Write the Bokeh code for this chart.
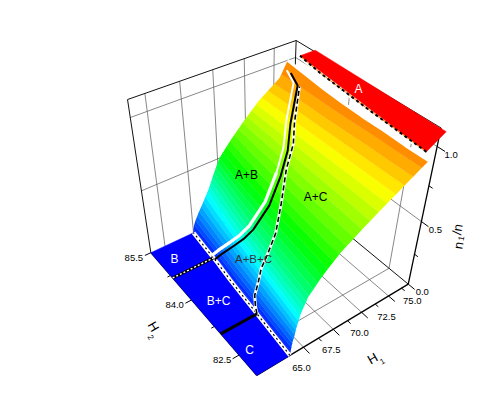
import numpy as np
from bokeh.core.properties import value
from bokeh.embed import file_html
from bokeh.models import Range1d
from bokeh.plotting import figure
from bokeh.resources import INLINE

# ---- chart data -------------------------------------------------------
h2_cols = [82.0, 82.5, 83.0, 83.5, 84.0, 84.5, 85.0, 85.5]
n_rows = [0, .03, .06, .1, .15, .2, .3, .4, .5, .6, .7, .8, .9, .93]
# height actually reached by the surface's upper rim for each H2
rim_n = [.93, .93, .94, .94, .95, .96, .98, 1.0]
# H1 at which the surface reaches n_rows[i] for h2_cols[j]
h1_table = [
    [63.90, 64.05, 64.20, 64.35, 64.50, 64.70, 64.85, 65.00],
    [63.93, 64.08, 64.23, 64.38, 64.53, 64.73, 64.88, 65.03],
    [63.98, 64.13, 64.28, 64.43, 64.60, 64.80, 64.95, 65.10],
    [64.05, 64.22, 64.38, 64.55, 64.72, 64.92, 65.10, 65.30],
    [64.20, 64.38, 64.56, 64.76, 64.95, 65.15, 65.38, 65.60],
    [64.30, 64.55, 64.80, 65.00, 65.20, 65.42, 65.65, 65.95],
    [64.60, 64.85, 65.10, 65.35, 65.60, 65.90, 66.25, 66.60],
    [65.10, 65.35, 65.60, 65.85, 66.15, 66.45, 66.80, 67.10],
    [66.10, 66.30, 66.50, 66.70, 66.90, 67.10, 67.35, 67.65],
    [67.40, 67.55, 67.70, 67.90, 68.05, 68.25, 68.45, 68.70],
    [69.20, 69.30, 69.40, 69.50, 69.60, 69.70, 69.80, 69.90],
    [71.20, 71.20, 71.20, 71.20, 71.20, 71.20, 71.20, 71.20],
    [73.25, 73.20, 73.20, 73.15, 73.10, 73.10, 73.05, 73.00],
    [73.90, 73.90, 73.85, 73.85, 73.80, 73.80, 73.75, 73.70],
]
# phase boundaries on the surface: n and H2
c1_n = [0, .1, .21, .3, .39, .53, .64, .72, .8, .91, .93]
c1_h2 = [84.67, 84.45, 84.2, 84.0, 83.85, 83.8, 84.0, 84.25, 84.6, 85.1, 85.45]
c2_n = [0, .04, .1, .18, .27, .36, .47, .57, .67, .75, .81, .91]
c2_h2 = [83.05, 83.12, 83.2, 83.22, 83.25, 83.22, 83.28, 83.55, 83.95, 84.2, 84.5, 85.0]
# red plate A corners
plate_a_h1 = [74.8, 76.2, 74.95, 73.5]
plate_a_h2 = [85.5, 85.5, 82.0, 82.0]
plate_a_n = [1.0, 1.0, 1.07, 1.0]
top_line_h1 = [73.5, 73.7, 73.9, 74.15, 74.4, 74.8]
top_line_h2 = [82.0, 82.7, 83.4, 84.1, 84.8, 85.5]
h2_bc = [84.67, 83.05]
h1_ticks = [65.0, 67.5, 70.0, 72.5, 75.0]
h1_labels = ["65.0", "67.5", "70.0", "72.5", "75.0"]
h2_ticks = [85.5, 84.0, 82.5]
h2_labels = ["85.5", "84.0", "82.5"]
n_ticks = [0.0, 0.5, 1.0]
n_labels = ["0.0", "0.5", "1.0"]
H1_MIN, H1_MAX, H2_MIN, H2_MAX, N_TOP = 61.3, 74.4, 82.0, 85.5, 1.11

# ---- projection calibrated on the box corners ---------------------------
world = np.array([(61.3, 82, 0), (65, 82, 0), (70, 82, 0), (74.4, 82, 0), (74.4, 82, .5), (74.4, 82, 1),
                  (74.4, 82, 1.11), (61.3, 85.5, 0), (65, 85.5, 0), (74.4, 85.5, 1.11), (61.3, 85.5, 1.11),
                  (74.4, 85.5, 1.0), (61.3, 85.5, 1.0)], float)
page = np.array([(255, 375), (303, 347), (360, 313), (409, 281), (422, 220), (437, 146), (440, 130),
                 (153, 252), (191, 234), (299, 39), (127, 99), (291, 58), (130, 115)], float)
C = np.array([68, 84, .5])
A, b = [], []
for (w, q) in zip(world - C, page):
    A.append([*w, 1, 0, 0, 0, 0, *(-q[0] * w)]); b.append(q[0])
    A.append([0, 0, 0, 0, *w, 1, *(-q[1] * w)]); b.append(q[1])
M = np.linalg.lstsq(np.array(A), np.array(b), rcond=None)[0]


def proj(h1, h2, n):
    h1, h2, n = np.broadcast_arrays(np.asarray(h1, float) - C[0], np.asarray(h2, float) - C[1], np.asarray(n, float) - C[2])
    d = M[8] * h1 + M[9] * h2 + M[10] * n + 1
    return (M[0] * h1 + M[1] * h2 + M[2] * n + M[3]) / d, (M[4] * h1 + M[5] * h2 + M[6] * n + M[7]) / d


T = np.array(h1_table)
Z = np.tile(np.array(n_rows)[:, None], (1, len(h2_cols)))
G2 = np.tile(np.array(h2_cols), (len(n_rows), 1))
P = Z.copy()
P[-1] = rim_n


def on_surface(ns, h2s):
    return [np.interp(h, h2_cols, [np.interp(v, n_rows, T[:, j]) for j in range(len(h2_cols))]) for v, h in zip(ns, h2s)]


p = figure(width=482, height=383, x_range=Range1d(0, 482), y_range=Range1d(383, 0), toolbar_location=None,
           output_backend="svg", min_border=0, outline_line_color=None, background_fill_color="white")
p.axis.visible = False
p.grid.visible = False

GRID = "#555555"


def seg(a, b_, **kw):
    x, y = proj([a[0], b_[0]], [a[1], b_[1]], [a[2], b_[2]])
    p.line(x, y, **kw)


grid_kw = dict(line_color=GRID, line_width=0.7)
for h in [62.5, 65, 67.5, 70, 72.5]:
    seg((h, H2_MAX, 0), (h, H2_MAX, N_TOP), **grid_kw)
    seg((h, H2_MIN, 0), (h, H2_MAX, 0), **grid_kw)
for h in [82.5, 84.0]:
    seg((H1_MAX, h, 0), (H1_MAX, h, N_TOP), **grid_kw)
    seg((H1_MIN, h, 0), (H1_MAX, h, 0), **grid_kw)
for v in [.5, 1.0]:
    seg((H1_MIN, H2_MAX, v), (H1_MAX, H2_MAX, v), **grid_kw)
    seg((H1_MAX, H2_MIN, v), (H1_MAX, H2_MAX, v), **grid_kw)

box_kw = dict(line_color="#111111", line_width=1.0)
seg((H1_MIN, H2_MAX, 0), (H1_MIN, H2_MAX, N_TOP), **box_kw)
seg((H1_MIN, H2_MAX, N_TOP), (H1_MAX, H2_MAX, N_TOP), **box_kw)
seg((H1_MAX, H2_MAX, N_TOP), (H1_MAX, H2_MIN, N_TOP), **box_kw)
seg((H1_MAX, H2_MAX, 0), (H1_MAX, H2_MAX, N_TOP), **box_kw)
seg((H1_MAX, H2_MIN, 0), (H1_MAX, H2_MAX, 0), **box_kw)
seg((H1_MAX, H2_MIN, 0), (H1_MAX, H2_MIN, N_TOP), line_color="black", line_width=1.3)
seg((H1_MIN, H2_MIN, 0), (H1_MAX, H2_MIN, 0), line_color="black", line_width=1.3)
seg((H1_MIN, H2_MIN, 0), (H1_MIN, H2_MAX, 0), line_color="black", line_width=1.3)

# ticks
for h, m in [(65, 1), (66.25, 0), (67.5, 1), (68.75, 0), (70, 1), (71.25, 0), (72.5, 1), (73.75, 0)]:
    seg((h, H2_MIN, 0), (h, H2_MIN - (0.16 if m else 0.08), 0), line_color="black", line_width=1)
for h, m in [(85.5, 1), (84.75, 0), (84, 1), (83.25, 0), (82.5, 1)]:
    seg((H1_MIN, h, 0), (H1_MIN - (0.5 if m else 0.25), h, 0), line_color="black", line_width=1)
for v, m in [(0, 1), (.25, 0), (.5, 1), (.75, 0), (1, 1)]:
    seg((H1_MAX, H2_MIN, v), (H1_MAX, H2_MIN - (0.16 if m else 0.08), v), line_color="black", line_width=1)

# blue plates and red plate
front = T[0]
px, py = proj([H1_MIN, H1_MIN, *front[::-1]], [H2_MIN, H2_MAX, *h2_cols[::-1]], 0)
p.patch(px, py, fill_color="#0000ff", line_color="#0000ff", line_width=0.5)
ax, ay = proj(plate_a_h1, plate_a_h2, plate_a_n)

# surface: the colour scale runs on to 1.07
levels = list(np.arange(0, 33) / 32)
stops = np.array([(0, 0, 255), (0, 255, 255), (0, 255, 0), (255, 255, 0), (255, 0, 0)], float)


def hexc(t):
    c = [int(round(np.interp(t * 4 / 1.07, range(5), stops[:, i]))) for i in range(3)]
    return "#%02x%02x%02x" % tuple(c)


fills = [hexc((levels[i] + levels[i + 1]) / 2) for i in range(32)]
lines = [hexc(l) for l in levels]
SX, SY = proj(T, G2, P)
p.contour(SX, SY, Z, levels, fill_color=fills, line_color=lines, line_width=0.6)

# white fringes and dashed black borders
ex, ey = proj(T[-1], h2_cols, rim_n)
tx, ty = proj(top_line_h1, top_line_h2, 1.0)
p.line(tx, ty, line_color="white", line_width=5)
p.line(ex, ey, line_color="white", line_width=3)
p.patch(ax, ay, fill_color="#ff0000", line_color="#ff0000", line_width=0.5)
p.line(tx, ty, line_color="#ff8000", line_width=1)
p.line(tx, ty, line_color="black", line_width=2, line_dash="3 3")
fx, fy = proj(front, h2_cols, 0)
p.line(fx, fy, line_color="white", line_width=4)
p.line(fx, fy, line_color="black", line_width=1.2, line_dash="2 3")

c1_h1 = on_surface(c1_n, c1_h2)
c2_h1 = on_surface(c2_n, c2_h2)
cx, cy = proj(c2_h1, c2_h2, c2_n)
p.line(cx, cy, line_color="white", line_width=3)
p.line(cx, cy, line_color="black", line_width=1.6, line_dash="5 3")
wx, wy = proj(c1_h1, np.array(c1_h2) + 0.07, c1_n)
p.line(wx[:7], wy[:7], line_color="white", line_width=3.2)
p.line(wx[6:], wy[6:], line_color="white", line_width=2)
bx, by = proj(c1_h1, np.array(c1_h2) - 0.05, c1_n)
p.line(bx, by, line_color="black", line_width=2)

# separators on the blue plates
for k, h in enumerate(h2_bc):
    f = np.interp(h, h2_cols, front)
    sx, sy = proj([H1_MIN, f], [h, h], 0)
    if k == 0:
        p.line(sx, sy, line_color="black", line_width=3)
        p.line(sx, sy, line_color="white", line_width=1.4, line_dash="2 2")
    else:
        p.line(sx, sy, line_color="black", line_width=3)

font = value("Liberation Sans")
common = dict(text_font=font, text_align="center", text_baseline="middle")


def label(x, y, t, size="12px", color="black", angle=0.0, **kw):
    p.text([x], [y], text=[t], text_font_size=size, text_color=color, angle=angle, angle_units="deg", **common, **kw)


for t, h in zip(h1_labels, h1_ticks):
    x, y = proj(h, H2_MIN, 0)
    label(float(x) - 2, float(y) + 21, t, size="9.5px")
for t, h in zip(h2_labels, h2_ticks):
    x, y = proj(H1_MIN, h, 0)
    label(float(x) - 17, float(y) + 5, t, size="9.5px")
for t, v in zip(n_labels, n_ticks):
    x, y = proj(H1_MAX, H2_MIN, v)
    label(float(x) + 14, float(y) + 8, t, size="9.5px")

label(358, 88, "A", color="white")
label(174, 258, "B", color="white")
label(218, 300, "B+C", color="white")
label(249, 349, "C", color="white")
label(246, 174, "A+B")
label(315, 196, "A+C")
label(253, 258, "A+B+C", size="11.5px", color="#333333")
label(153, 326, "H", size="13px", angle=-60)
label(150, 337, "2", size="8px", angle=-60)
label(372, 358, "H", size="13px", angle=30)
label(382, 361, "1", size="8px", angle=30)
label(458, 245, "n", size="13px", angle=80)
label(461, 238, "1", size="8px", angle=80)
label(457, 229, "/n", size="13px", angle=80)

open("out.html", "w").write(file_html(p, INLINE))
